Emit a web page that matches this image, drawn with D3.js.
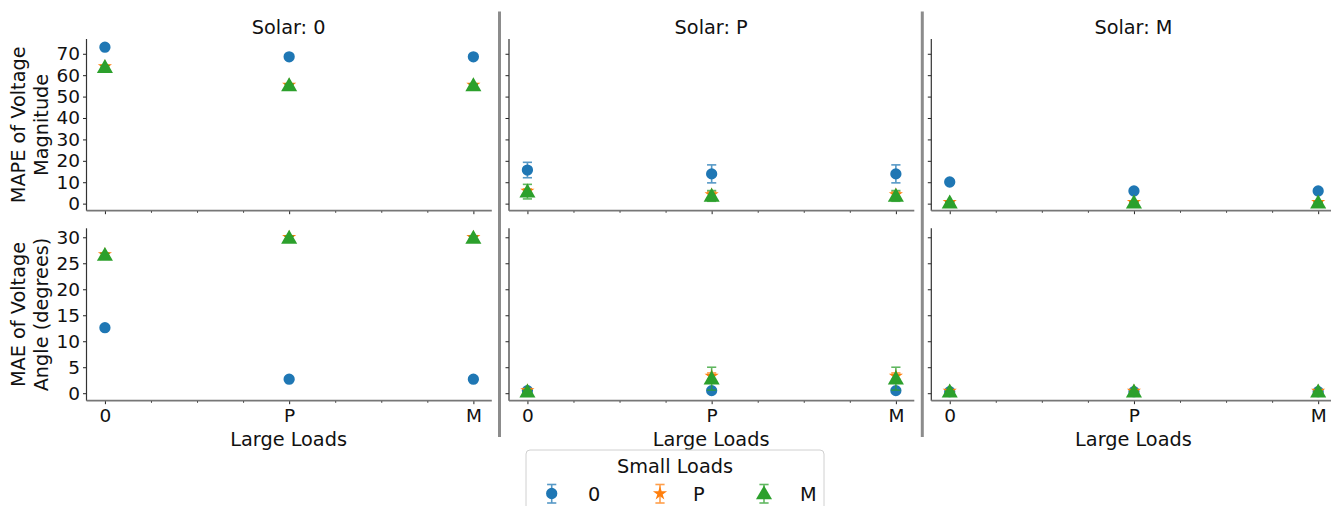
<!DOCTYPE html>
<html>
<head>
<meta charset="utf-8">
<script src="https://cdn.jsdelivr.net/npm/d3@7"></script>
<style>
  html, body { margin: 0; padding: 0; background: #fff; }
  svg { display: block; font-family: "DejaVu Sans", sans-serif; }
</style>
</head>
<body>
<svg id="chart" width="1331" height="506"></svg>
<script>
// Categories
const solarLevels = ["0", "P", "M"];
const largeLoads = ["0", "P", "M"];
const smallLoads = ["0", "P", "M"];

// MAPE of voltage magnitude: rows = small loads (0, P, M), cols = large loads (0, P, M)
const mapeSolar0 = [[73.1, 68.6, 68.6], [64.0, 55.4, 55.4], [63.8, 55.2, 55.2]];
const mapeSolarP = [[15.7, 13.9, 13.9], [5.9, 4.2, 4.2], [5.6, 3.6, 3.6]];
const mapeSolarM = [[10.1, 5.9, 5.9], [0.6, 0.6, 0.6], [0.5, 0.5, 0.5]];
const mapeErrSolar0 = [[0.5, 0.5, 0.5], [0.6, 0.6, 0.6], [0.6, 0.6, 0.6]];
const mapeErrSolarP = [[3.6, 4.2, 4.2], [1.0, 1.3, 1.3], [3.4, 2.5, 2.5]];
const mapeErrSolarM = [[0.4, 0.4, 0.4], [0.3, 0.3, 0.3], [0.3, 0.3, 0.3]];

// MAE of voltage angle (degrees)
const maeSolar0 = [[12.6, 2.7, 2.7], [26.7, 30.0, 30.0], [26.6, 29.9, 29.9]];
const maeSolarP = [[0.5, 0.5, 0.5], [0.5, 3.3, 3.3], [0.3, 2.8, 2.8]];
const maeSolarM = [[0.3, 0.3, 0.3], [0.4, 0.4, 0.4], [0.3, 0.3, 0.3]];
const maeErrSolar0 = [[0.2, 0.2, 0.2], [0.3, 0.3, 0.3], [0.3, 0.3, 0.3]];
const maeErrSolarP = [[0.1, 0.1, 0.1], [0.4, 0.6, 0.6], [0.3, 2.2, 2.2]];
const maeErrSolarM = [[0.1, 0.1, 0.1], [0.1, 0.1, 0.1], [0.1, 0.1, 0.1]];

// Axis ticks
const mapeTicks = [0, 10, 20, 30, 40, 50, 60, 70];
const maeTicks = [0, 5, 10, 15, 20, 25, 30];

const rows = [
  { means: [mapeSolar0, mapeSolarP, mapeSolarM], errs: [mapeErrSolar0, mapeErrSolarP, mapeErrSolarM],
    domain: [-3.3, 76.9], ticks: mapeTicks, label: ["MAPE of Voltage", "Magnitude"] },
  { means: [maeSolar0, maeSolarP, maeSolarM], errs: [maeErrSolar0, maeErrSolarP, maeErrSolarM],
    domain: [-1.44, 31.73], ticks: maeTicks, label: ["MAE of Voltage", "Angle (degrees)"] }
];

const colors = ["#1f77b4", "#ff7f0e", "#2ca02c"];
const symbols = [d3.symbolCircle, d3.symbolStar, d3.symbolTriangle];
const symbolSizes = [100, 62, 112];

const svg = d3.select("#chart");
const TICK_FONT = 18.5;
const FONT = 19.3;

const colLeft = [86.5, 509, 931.3];
const colWidth = 405.3;
const rowTop = [39, 228.3];
const rowBottom = [210.7, 400.7];

const x = d3.scaleLinear().domain([-0.1, 2.1]);
const minorX = [0.25, 0.5, 0.75, 1.25, 1.5, 1.75];

function marker(g, i, cx, cy) {
  const sym = d3.symbol().type(symbols[i]).size(symbolSizes[i]);
  let ty = cy;
  if (i === 2) ty = cy + 1.2;
  g.append("path")
    .attr("d", sym())
    .attr("transform", `translate(${cx},${ty})`)
    .attr("fill", colors[i]);
}

function errorbar(g, i, cx, y1, y2) {
  const eg = g.append("g").attr("stroke", colors[i]).attr("stroke-width", 1.6).attr("opacity", 0.75);
  eg.append("line").attr("x1", cx).attr("x2", cx).attr("y1", y1).attr("y2", y2);
  eg.append("line").attr("x1", cx - 4.6).attr("x2", cx + 4.6).attr("y1", y1).attr("y2", y1);
  eg.append("line").attr("x1", cx - 4.6).attr("x2", cx + 4.6).attr("y1", y2).attr("y2", y2);
}

rows.forEach((row, r) => {
  const y = d3.scaleLinear().domain(row.domain).range([rowBottom[r], rowTop[r]]);
  solarLevels.forEach((s, c) => {
    const xs = x.copy().range([colLeft[c], colLeft[c] + colWidth]);
    const g = svg.append("g");

    // y axis
    const yAxis = d3.axisLeft(y).tickValues(row.ticks).tickSize(3.5).tickPadding(3)
      .tickFormat(c === 0 ? d3.format("d") : () => "");
    const ya = g.append("g").attr("transform", `translate(${colLeft[c]},0)`).call(yAxis);
    ya.select(".domain").remove();
    ya.selectAll(".tick line").attr("stroke", "#222").attr("stroke-width", 1);
    ya.selectAll(".tick text").attr("font-size", TICK_FONT).attr("fill", "#111")
      .attr("font-family", "DejaVu Sans");
    g.append("line").attr("x1", colLeft[c]).attr("x2", colLeft[c])
      .attr("y1", rowTop[r]).attr("y2", rowBottom[r])
      .attr("stroke", "#333").attr("stroke-width", 1.2);

    // x axis, major and minor ticks
    const xAxis = d3.axisBottom(xs).tickValues([0, 1, 2]).tickSize(3.5).tickPadding(4.5)
      .tickFormat(r === 1 ? (d => largeLoads[d]) : () => "");
    const xa = g.append("g").attr("transform", `translate(0,${rowBottom[r]})`).call(xAxis);
    xa.select(".domain").remove();
    xa.selectAll(".tick line").attr("stroke", "#222");
    xa.selectAll(".tick text").attr("font-size", TICK_FONT).attr("fill", "#111")
      .attr("font-family", "DejaVu Sans");
    const xm = g.append("g").attr("transform", `translate(0,${rowBottom[r]})`)
      .call(d3.axisBottom(xs).tickValues(minorX).tickSize(2).tickFormat(() => ""));
    xm.select(".domain").remove();
    xm.selectAll(".tick line").attr("stroke", "#222");
    g.append("line").attr("x1", colLeft[c]).attr("x2", colLeft[c] + colWidth)
      .attr("y1", rowBottom[r]).attr("y2", rowBottom[r])
      .attr("stroke", "#777").attr("stroke-width", 1.8);

    // points with error bars: small loads 0, P, M
    smallLoads.forEach((sl, i) => {
      row.means[c][i].forEach((v, j) => {
        const cx = xs(j);
        const e = row.errs[c][i][j];
        errorbar(g, i, cx, y(v + e), y(v - e));
        marker(g, i, cx, y(v));
      });
    });

    if (r === 0) {
      g.append("text").attr("x", colLeft[c] + colWidth / 2 - 0.5).attr("y", 33.5)
        .attr("text-anchor", "middle").attr("font-size", FONT).attr("fill", "#111")
        .text("Solar: " + s);
    } else {
      g.append("text").attr("x", colLeft[c] + colWidth / 2 - 0.5).attr("y", 445.5)
        .attr("text-anchor", "middle").attr("font-size", FONT).attr("fill", "#111")
        .text("Large Loads");
    }
  });

  // y axis label (two lines)
  const cy = (rowTop[r] + rowBottom[r]) / 2;
  row.label.forEach((t, k) => {
    svg.append("text")
      .attr("transform", `translate(${18.5 + k * 23},${cy}) rotate(-90)`)
      .attr("text-anchor", "middle").attr("dy", "0.36em")
      .attr("font-size", FONT).attr("fill", "#111")
      .text(t);
  });
});

// column separators
[499.5, 922.3].forEach(sx => {
  svg.append("line").attr("x1", sx).attr("x2", sx).attr("y1", 11.5).attr("y2", 437)
    .attr("stroke", "#8c8c8c").attr("stroke-width", 3);
});

// legend
const lg = svg.append("g");
lg.append("rect").attr("x", 526).attr("y", 450).attr("width", 298).attr("height", 80)
  .attr("rx", 4).attr("fill", "#fff").attr("fill-opacity", 0.8)
  .attr("stroke", "#d0d0d0").attr("stroke-width", 1);
lg.append("text").attr("x", 675).attr("y", 472.5).attr("text-anchor", "middle")
  .attr("font-size", FONT).attr("fill", "#111").text("Small Loads");
const legendMarkX = [551.7, 660, 764];
const legendTextX = [588, 693, 800];
smallLoads.forEach((sl, i) => {
  errorbar(lg, i, legendMarkX[i], 484.5, 503);
  marker(lg, i, legendMarkX[i], 493.5);
  lg.append("text").attr("x", legendTextX[i]).attr("y", 500.5)
    .attr("font-size", FONT).attr("fill", "#111").text(sl);
});
</script>
</body>
</html>
